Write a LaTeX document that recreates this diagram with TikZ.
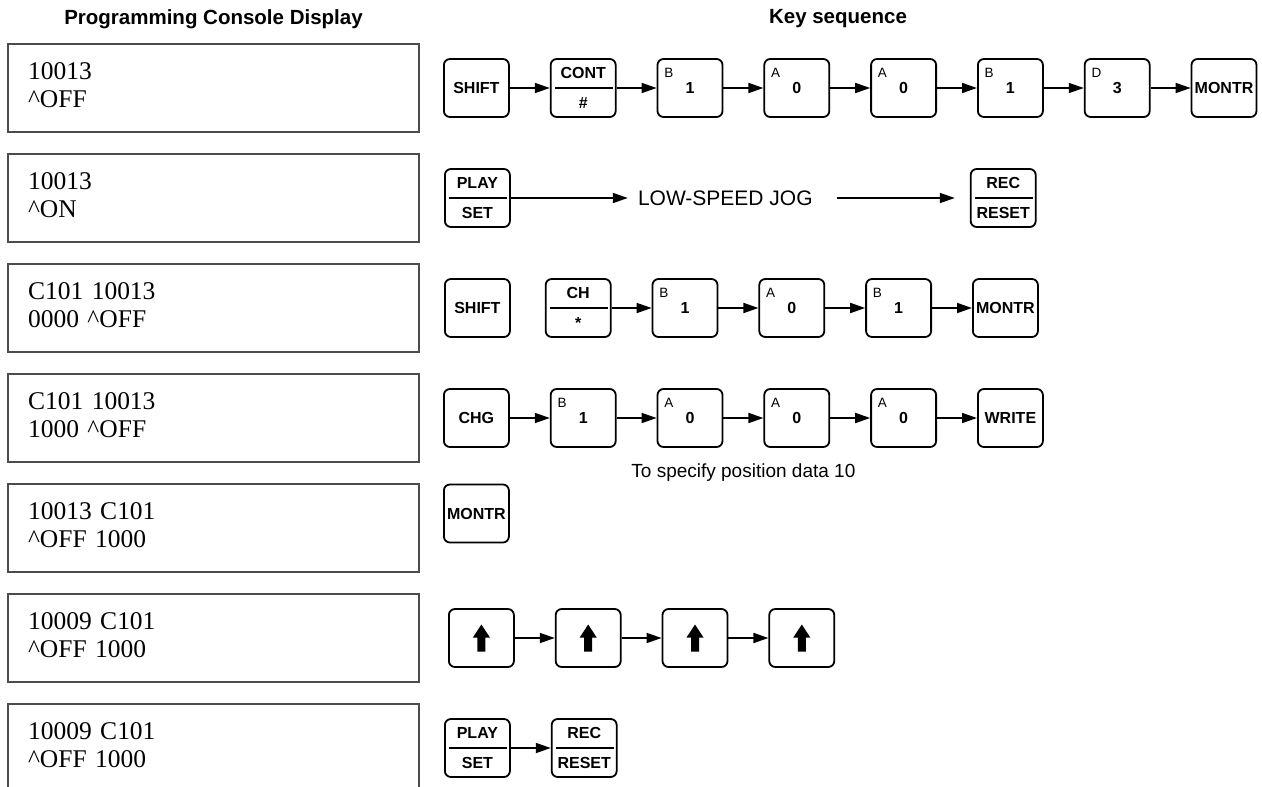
\documentclass[tikz,border=0pt]{standalone}
\usepackage{fontspec}
\setmainfont{Liberation Serif}
\setsansfont{Liberation Sans}
\usetikzlibrary{positioning,arrows.meta,calc}

\begin{document}
\begin{tikzpicture}[
  x=1pt, y=-1pt,
  font=\sffamily,
  head/.style={font=\sffamily\bfseries\fontsize{20.5}{24}\selectfont},
  disp/.style={draw=black!70, line width=1.1pt, outer sep=0pt, anchor=north west,
               text width=371pt, inner xsep=20pt, minimum height=88pt, align=left,
               text depth=33pt, font=\rmfamily\fontsize{25.5}{28}\selectfont},
  key/.style={draw, line width=1.8pt, rounded corners=6pt, minimum width=65pt,
              minimum height=58pt, inner sep=0pt,
              font=\sffamily\bfseries\fontsize{16}{18}\selectfont},
  dual/.style={key, align=center, font=\sffamily\bfseries\fontsize{16}{30}\selectfont},
  letter/.style={anchor=north west, inner sep=0pt, xshift=7.5pt, yshift=-10pt,
                 font=\sffamily\fontsize{13.5}{13.5}\selectfont},
  num/.style={key, label={[letter]north west:#1}},
  note/.style={inner sep=0pt, font=\sffamily\fontsize{19}{22}\selectfont},
  arr/.style={-{Triangle[length=15pt, width=10pt]}, line width=1.7pt},
  node distance=40pt]

\useasboundingbox (0,0) rectangle (1262,787);

% headings
\node[head] (hdisp) at (213.5,19) {Programming Console Display};
\node[head] (hkeys) at (838,19) {Key sequence};

% console displays
\node[disp] (d1) at (8,44) {10013\\\textasciicircum OFF};
\node[disp, below=22pt of d1] (d2) {10013\\\textasciicircum ON};
\node[disp, below=22pt of d2] (d3) {C101 10013\\0000 \textasciicircum OFF};
\node[disp, below=22pt of d3] (d4) {C101 10013\\1000 \textasciicircum OFF};
\node[disp, below=22pt of d4] (d5) {10013 C101\\\textasciicircum OFF 1000};
\node[disp, below=22pt of d5] (d6) {10009 C101\\\textasciicircum OFF 1000};
\node[disp, below=22pt of d6] (d7) {10009 C101\\\textasciicircum OFF 1000};

% row 1
\node[key,  right=24pt of d1] (k11) {SHIFT};
\node[dual, right=of k11] (k12) {CONT\\\#};
\node[num=B, right=of k12] (k13) {1};
\node[num=A, right=of k13] (k14) {0};
\node[num=A, right=of k14] (k15) {0};
\node[num=B, right=of k15] (k16) {1};
\node[num=D, right=of k16] (k17) {3};
\node[key,  right=of k17] (k18) {MONTR};

% row 2
\node[dual, right=25pt of d2] (p2) {PLAY\\SET};
\node[note, font=\sffamily\fontsize{21}{24}\selectfont, right=127pt of p2] (jog) {LOW-SPEED JOG};
\node[dual, right=459pt of p2] (r2) {REC\\RESET};

% row 3
\node[key,  right=25pt of d3] (k31) {SHIFT};
\node[dual, right=34pt of k31] (k32) {CH\\*};
\node[num=B, right=of k32] (k33) {1};
\node[num=A, right=of k33] (k34) {0};
\node[num=B, right=of k34] (k35) {1};
\node[key,  right=of k35] (k36) {MONTR};

% row 4
\node[key,  right=24pt of d4] (k41) {CHG};
\node[num=B, right=of k41] (k42) {1};
\node[num=A, right=of k42] (k43) {0};
\node[num=A, right=of k43] (k44) {0};
\node[num=A, right=of k44] (k45) {0};
\node[key,  right=of k45] (k46) {WRITE};
\node[note] (spec) at ($(k43.south)!.5!(k44.south) + (0,25)$) {To specify position data 10};

% row 5
\node[key, right=24pt of d5, yshift=14.5pt] (k51) {MONTR};

% row 6
\node[key, right=29pt of d6] (u1) {};
\node[key, right=of u1] (u2) {};
\node[key, right=of u2] (u3) {};
\node[key, right=of u3] (u4) {};

% row 7
\node[dual, right=25pt of d7] (p7) {PLAY\\SET};
\node[dual, right=of p7] (r7) {REC\\RESET};

% key faces
\foreach \k in {k12,p2,r2,k32,p7,r7}
  \draw[line width=1.6pt] ([xshift=5pt]\k.west) -- ([xshift=-4pt]\k.east);
\foreach \k in {u1,u2,u3,u4}
  \fill ([shift={(0,-13.5)}]\k.center) -- ++(8.5,13) -- ++(-4.5,0) -- ++(0,14)
    -- ++(-8,0) -- ++(0,-14) -- ++(-4.5,0) -- cycle;

% connectors
\foreach \a/\b in {k11/k12,k12/k13,k13/k14,k14/k15,k15/k16,k16/k17,k17/k18,
                   k32/k33,k33/k34,k34/k35,k35/k36,
                   k41/k42,k42/k43,k43/k44,k44/k45,k45/k46,
                   u1/u2,u2/u3,u3/u4,p7/r7}
  \draw[arr] (\a) -- (\b);
\draw[arr] (p2) -- ([xshift=-10pt]jog.west);
\draw[arr, shorten >=15pt] ([xshift=24pt]jog.east) -- (r2);
\end{tikzpicture}
\end{document}
